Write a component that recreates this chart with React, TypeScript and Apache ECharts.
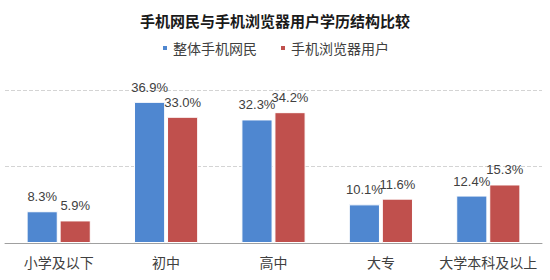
import React, { useEffect, useRef } from "react";
import * as echarts from "echarts";

const categories = ["小学及以下", "初中", "高中", "大专", "大学本科及以上"];
const seriesNames = ["整体手机网民", "手机浏览器用户"];
const mobileUsers = [8.3, 36.9, 32.3, 10.1, 12.4];
const browserUsers = [5.9, 33.0, 34.2, 11.6, 15.3];
const colors = ["#4f87d0", "#c0504d"];

export default function App() {
  const ref = useRef<HTMLDivElement>(null);
  useEffect(() => {
    const chart = echarts.init(ref.current!, null, { renderer: "svg" });
    const font = "'Liberation Sans', 'Noto Sans CJK SC', sans-serif";
    const label = {
      show: true,
      position: "top" as const,
      distance: 8,
      formatter: (p: any) => p.value.toFixed(1) + "%",
      color: "#404040",
      fontSize: 13,
      fontFamily: font,
    };
    chart.setOption({
      animation: false,
      backgroundColor: "#ffffff",
      title: {
        text: "手机网民与手机浏览器用户学历结构比较",
        left: "center",
        top: 8,
        textStyle: { fontSize: 15, fontWeight: "bold", color: "#1a1a1a", fontFamily: "'Noto Sans CJK SC', sans-serif" },
      },
      legend: {
        data: seriesNames,
        top: 36,
        left: "center",
        icon: "rect",
        itemWidth: 6,
        itemHeight: 6,
        itemGap: 22,
        textStyle: { fontSize: 14, color: "#404040", fontFamily: "'Noto Sans CJK SC', sans-serif" },
      },
      grid: { left: 5, right: 8, top: 90, bottom: 37, containLabel: false },
      xAxis: {
        type: "category",
        data: categories,
        axisLine: { lineStyle: { color: "#a0a0a0" } },
        axisTick: { show: false },
        axisLabel: { interval: 0, fontSize: 14, color: "#404040", margin: 12, fontFamily: "'Noto Sans CJK SC', sans-serif" },
      },
      yAxis: {
        type: "value",
        min: 0,
        max: 40,
        interval: 20,
        axisLabel: { show: false },
        axisLine: { show: false },
        axisTick: { show: false },
        splitLine: { lineStyle: { color: "#d4d4d4", type: "dashed" } },
      },
      series: [
        {
          name: seriesNames[0],
          type: "bar",
          data: mobileUsers,
          barWidth: "29%",
          barGap: "6%",
          itemStyle: { color: colors[0], borderColor: "#ffffff", borderWidth: 1 },
          label,
        },
        {
          name: seriesNames[1],
          type: "bar",
          data: browserUsers,
          barWidth: "29%",
          itemStyle: { color: colors[1], borderColor: "#ffffff", borderWidth: 1 },
          label,
        },
      ],
    });
    return () => chart.dispose();
  }, []);
  return <div ref={ref} style={{ width: 550, height: 280, position: "absolute", left: 0, top: 0 }} />;
}
